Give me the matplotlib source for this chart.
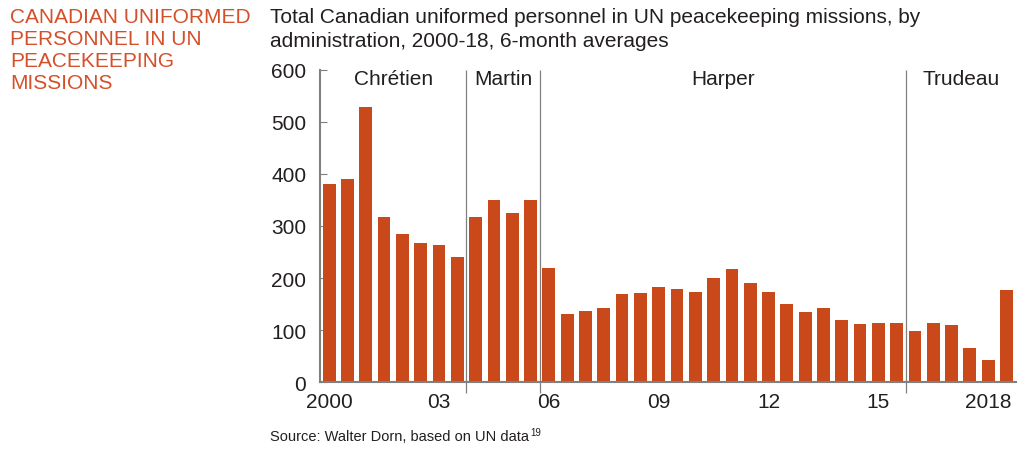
import numpy as np
import matplotlib
matplotlib.use("Agg")
import matplotlib.pyplot as plt

plt.rcParams["font.family"] = ["Liberation Sans", "DejaVu Sans"]

# 6-month averages, 2000H1 .. 2018H2
values = [380, 390, 528, 317, 285, 267, 264, 241,      # Chrétien
          318, 350, 325, 350,                            # Martin
          220, 131, 136, 143, 170, 172, 182, 179, 173, 201,
          218, 190, 174, 151, 134, 143, 120, 112, 113, 114,  # Harper
          99, 114, 110, 66, 43, 178]                     # Trudeau
tick_pos = [0, 6, 12, 18, 24, 30, 36]
tick_labels = ["2000", "03", "06", "09", "12", "15", "2018"]
admins = ["Chrétien", "Martin", "Harper", "Trudeau"]
admin_bounds = [-0.5, 7.5, 11.5, 31.5, 37.5]

bar_color = "#C9491A"
text_color = "#231F20"
grey = "#808080"

fig = plt.figure(figsize=(10.28, 4.52), dpi=100)
ax = fig.add_axes([0.3113, 0.152, 0.988 - 0.3113, 0.692])

x = np.arange(len(values))
ax.bar(x, values, width=0.7, color=bar_color, zorder=2)

ax.set_xlim(-0.5, 37.5)
ax.set_ylim(0, 600)
ax.set_yticks(range(0, 601, 100))
ax.set_xticks(tick_pos)
ax.set_xticklabels(tick_labels)

for side in ["top", "right"]:
    ax.spines[side].set_visible(False)
for side in ["left", "bottom"]:
    ax.spines[side].set_color(grey)
    ax.spines[side].set_linewidth(1.5)

ax.tick_params(axis="y", direction="in", length=5, color=grey,
               labelsize=15, labelcolor=text_color, pad=10)
ax.tick_params(axis="x", length=0, labelsize=15, labelcolor=text_color, pad=7)

# administration dividers and names
ax.vlines(admin_bounds[1:-1], -20, 600, color=grey, linewidth=0.9,
          clip_on=False, zorder=3)
for i, name in enumerate(admins):
    mid = (admin_bounds[i] + admin_bounds[i + 1]) / 2
    ax.text(mid, 582, name, ha="center", va="center", fontsize=15,
            color=text_color)

fig.text(10 / 1028, 1 - 8 / 452,
         "CANADIAN UNIFORMED\nPERSONNEL IN UN\nPEACEKEEPING\nMISSIONS",
         ha="left", va="top", fontsize=15, color="#D4502A", linespacing=1.2)
fig.text(270 / 1028, 1 - 8 / 452,
         "Total Canadian uniformed personnel in UN peacekeeping missions, by\n"
         "administration, 2000-18, 6-month averages",
         ha="left", va="top", fontsize=15, color=text_color, linespacing=1.32)
src = fig.text(270 / 1028, 1 - 437 / 452, "Source: Walter Dorn, based on UN data",
               ha="left", va="center", fontsize=10.5, color=text_color)
fig.canvas.draw()
bb = src.get_window_extent()
fig.text(bb.x1 / 1028 + 0.001, 1 - 433 / 452, "19", ha="left", va="center",
         fontsize=7, color=text_color)

fig.savefig("out.png", dpi=100)
